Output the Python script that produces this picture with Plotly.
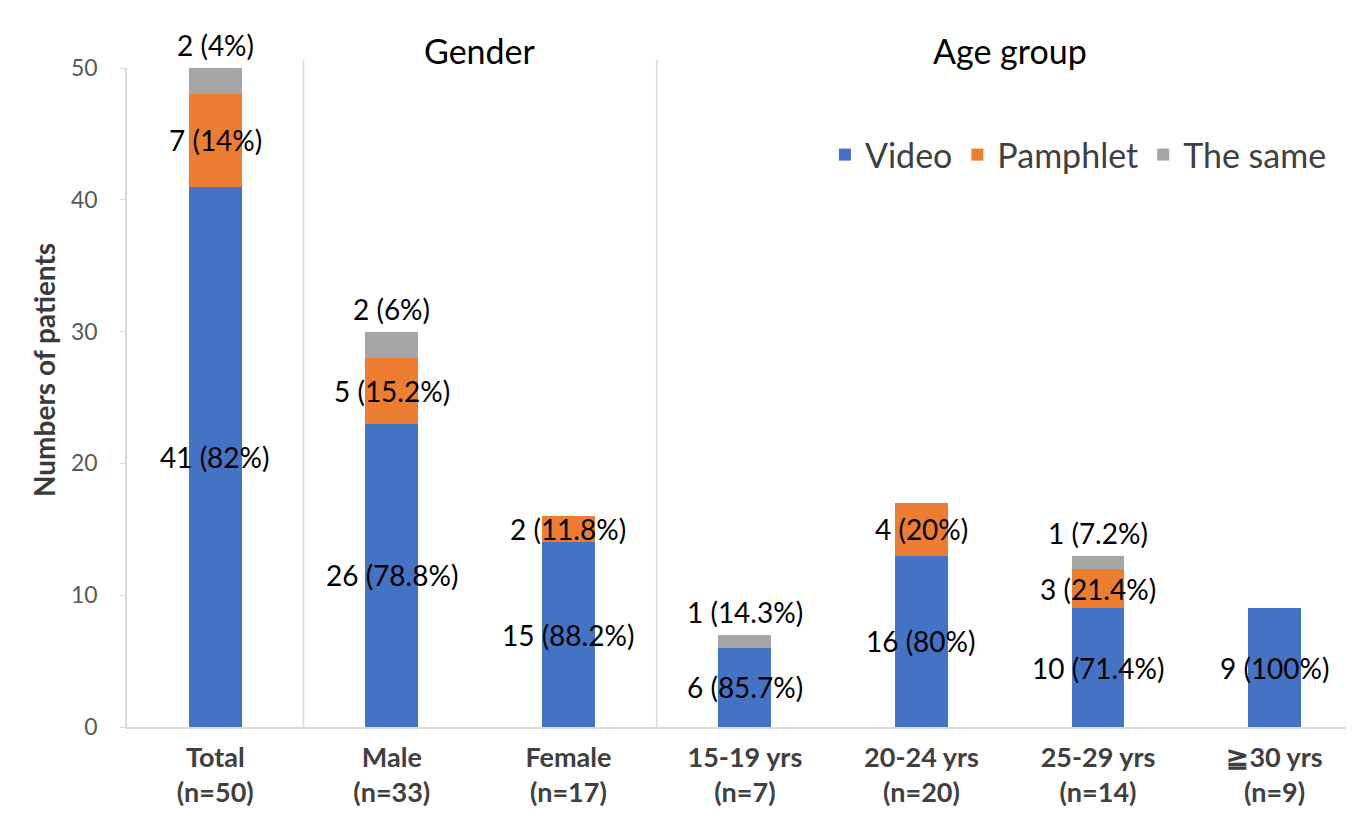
import plotly.graph_objects as go

categories = ["Total<br>(n=50)", "Male<br>(n=33)", "Female<br>(n=17)",
              "15-19 yrs<br>(n=7)", "20-24 yrs<br>(n=20)", "25-29 yrs<br>(n=14)", "≧30 yrs<br>(n=9)"]
video = [41, 23, 14, 6, 13, 9, 9]
pamphlet = [7, 5, 2, 0, 4, 3, 0]
same = [2, 2, 0, 1, 0, 1, 0]
video_labels = ["41 (82%)", "26 (78.8%)", "15 (88.2%)", "6 (85.7%)", "16 (80%)", "10 (71.4%)", "9 (100%)"]
pamphlet_labels = ["7 (14%)", "5 (15.2%)", "2 (11.8%)", "", "4 (20%)", "3 (21.4%)", ""]
same_labels = ["2 (4%)", "2 (6%)", "", "1 (14.3%)", "", "1 (7.2%)", ""]
groups = [("Gender", [1, 2]), ("Age group", [3, 4, 5, 6])]
dividers_after = [0, 2]

FONT = "Lato"
LABEL_SIZE = 28
colors = {"Video": "#4472C4", "Pamphlet": "#ED7D31", "The same": "#A5A5A5"}
x = list(range(len(categories)))

fig = go.Figure()
for name, vals in [("Video", video), ("Pamphlet", pamphlet), ("The same", same)]:
    fig.add_trace(go.Bar(x=x, y=vals, name=name, marker_color=colors[name],
                         marker_line_width=0, width=0.3))

lab_font = dict(size=LABEL_SIZE, color="#000000", family=FONT)
annotations = []
for i in x:
    if video_labels[i]:
        annotations.append(dict(x=i, y=video[i] / 2, text=video_labels[i], xref="x", yref="y",
                                showarrow=False, font=lab_font))
    if pamphlet_labels[i]:
        annotations.append(dict(x=i, y=video[i] + pamphlet[i] / 2, text=pamphlet_labels[i],
                                xref="x", yref="y", showarrow=False, font=lab_font))
    if same_labels[i]:
        top = video[i] + pamphlet[i] + same[i]
        annotations.append(dict(x=i, y=top, text=same_labels[i], xref="x", yref="y",
                                yanchor="middle", yshift=23, showarrow=False, font=lab_font))

for title, idx in groups:
    annotations.append(dict(x=sum(idx) / len(idx), y=1.061, xref="x", yref="paper",
                            text=title, showarrow=False,
                            font=dict(size=34, color="#000000", family=FONT)))

annotations.append(dict(x=-0.083, y=0.542, xref="paper", yref="paper", textangle=-90,
                        text="<b>Numbers of patients</b>", showarrow=False,
                        font=dict(size=28, color="#3a3a3a", family=FONT)))

shapes = []
for d in dividers_after:
    shapes.append(dict(type="line", xref="x", yref="paper", x0=d + 0.5, x1=d + 0.5,
                       y0=0, y1=1.012, line=dict(color="#D9D9D9", width=1.5)))

fig.update_layout(
    barmode="stack",
    width=1346, height=806,
    margin=dict(l=119, r=0, t=60, b=87),
    plot_bgcolor="white", paper_bgcolor="white",
    font=dict(family=FONT),
    annotations=annotations,
    shapes=shapes,
    legend=dict(orientation="h", x=0.982, xanchor="right", y=0.868, yanchor="middle",
                font=dict(size=34, color="#404040", family=FONT), bgcolor="rgba(0,0,0,0)",
                traceorder="normal", itemwidth=30),
    xaxis=dict(tickmode="array", tickvals=x,
               ticktext=["<b>" + c.replace("<br>", "</b><br><b>") + "</b>" for c in categories],
               range=[-0.5, 6.45], showline=True, linecolor="#D9D9D9", linewidth=1.5,
               ticks="", showgrid=False, zeroline=False, automargin=False,
               tickfont=dict(size=27, color="#404040", family=FONT), ticklabelstandoff=6),
    yaxis=dict(range=[0, 50], tickvals=[0, 10, 20, 30, 40, 50], showline=True,
               linecolor="#D9D9D9", linewidth=1.5, ticks="outside", ticklen=5,
               tickcolor="#D9D9D9", showgrid=False, zeroline=False, automargin=False,
               tickfont=dict(size=23, color="#595959", family=FONT), ticklabelstandoff=18),
)

fig.write_html("out.html")
